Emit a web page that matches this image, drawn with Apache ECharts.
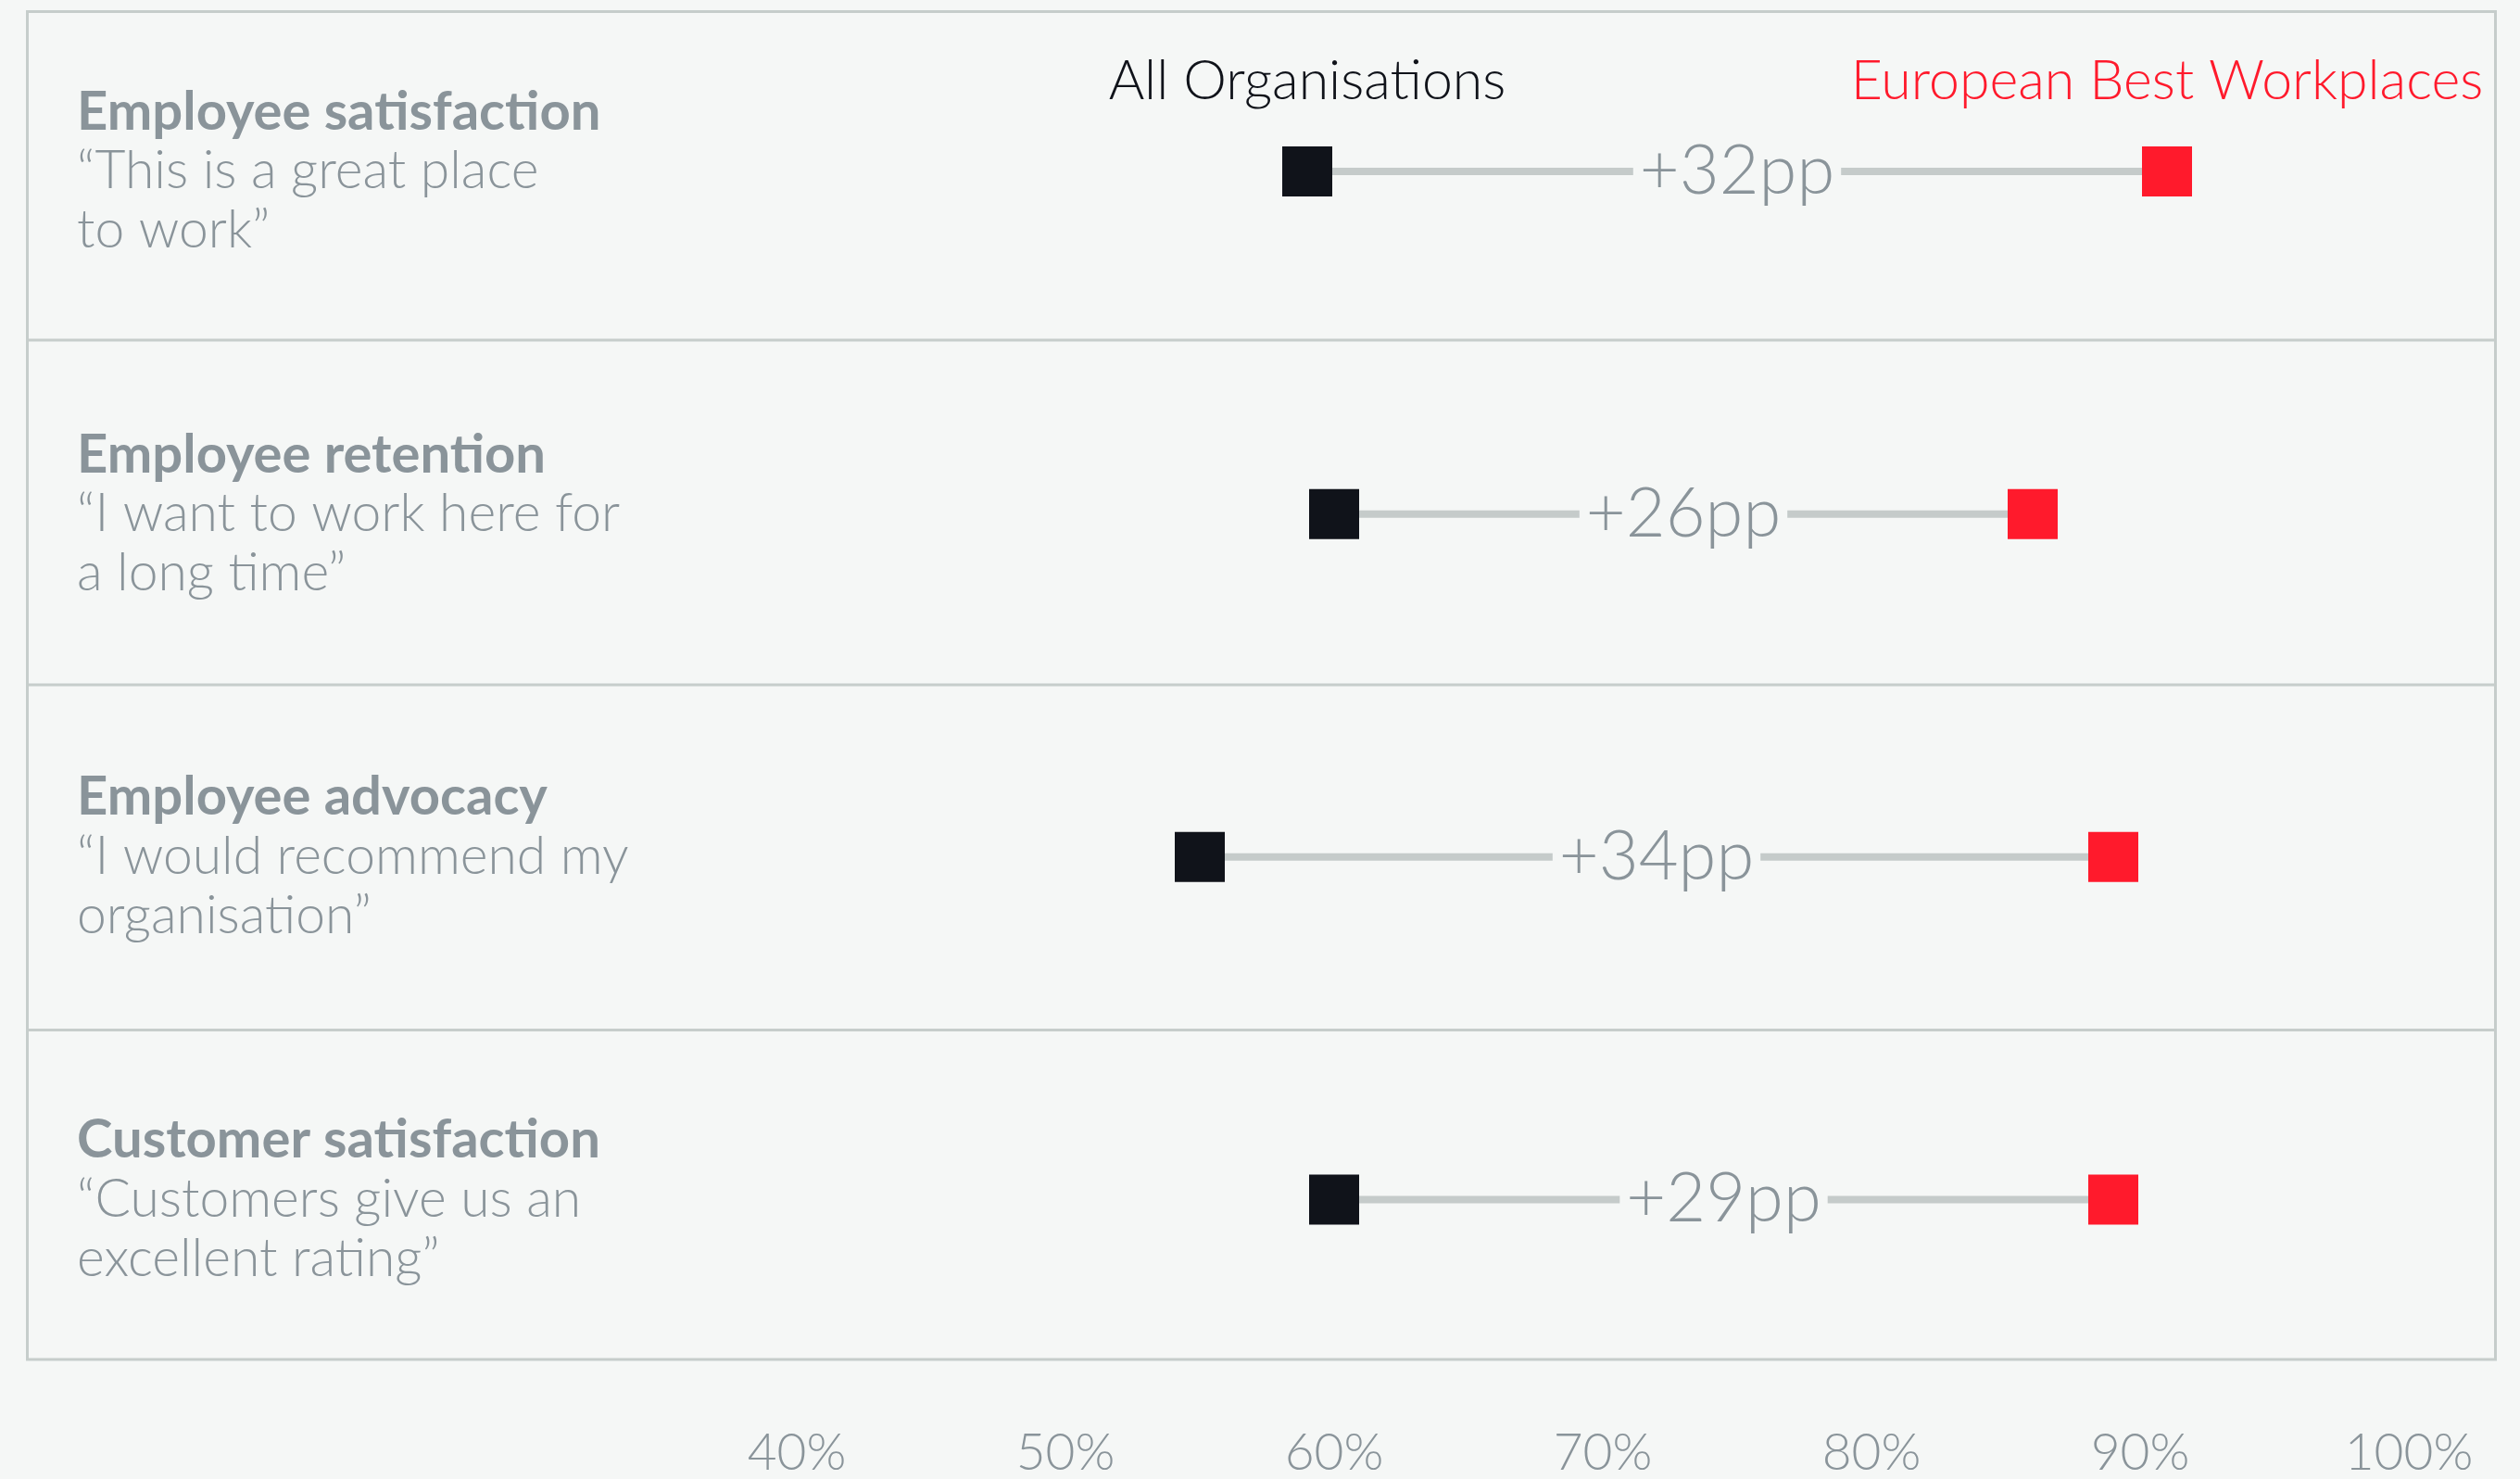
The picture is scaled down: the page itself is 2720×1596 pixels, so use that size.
<!DOCTYPE html>
<html>
<head>
<meta charset="utf-8">
<script src="https://cdn.jsdelivr.net/npm/echarts@6/dist/echarts.min.js"></script>
<style>
html,body{margin:0;padding:0;background:#f5f7f6;}
#chart{width:2720px;height:1596px;}
</style>
</head>
<body>
<div id="chart"></div>
<script>
const categories = ['Employee satisfaction', 'Employee retention', 'Employee advocacy', 'Customer satisfaction'];
const quotes = ['\u201CThis is a great place\nto work\u201D', '\u201CI want to work here for\na long time\u201D', '\u201CI would recommend my\norganisation\u201D', '\u201CCustomers give us an\nexcellent rating\u201D'];
const seriesNames = ['All Organisations', 'European Best Workplaces'];
const allOrganisations = [59, 60, 55, 60];
const bestWorkplaces = [91, 86, 89, 89];
const xTickValues = [40, 50, 60, 70, 80, 90, 100];

const FONT = 'Lato';
const GRAY = '#8a949a';
const BG = '#f5f7f6';
const BORDER = '#c6cdcb';

const chart = echarts.init(document.getElementById('chart'), null, {renderer: 'canvas'});

const connectorData = categories.map((c, i) => [i, allOrganisations[i], bestWorkplaces[i]]);

const option = {
  backgroundColor: BG,
  animation: false,
  grid: {left: 29.5, right: 26.5, top: -0.7, bottom: 113.5, containLabel: false},
  xAxis: {
    type: 'value',
    min: 11.362,
    max: 103.224,
    axisLine: {show: false},
    axisTick: {show: false},
    splitLine: {show: false},
    axisLabel: {
      customValues: xTickValues,
      formatter: '{value}%',
      fontFamily: FONT,
      fontWeight: 300,
      fontSize: 55,
      color: GRAY,
      verticalAlign: 'middle',
      margin: 89
    }
  },
  yAxis: {
    type: 'category',
    inverse: true,
    data: categories,
    axisLine: {show: false},
    axisTick: {show: false},
    splitLine: {show: false},
    axisLabel: {
      inside: true,
      margin: 53.5,
      align: 'left',
      formatter: (v, i) => '{t|' + v + '}\n' + quotes[i].split('\n').map(s => '{s|' + s + '}').join('\n'),
      rich: {
        t: {fontFamily: FONT, fontWeight: 700, fontSize: 58, lineHeight: 64, color: GRAY},
        s: {fontFamily: FONT, fontWeight: 300, fontSize: 57, lineHeight: 64, color: GRAY}
      }
    }
  },
  graphic: [
    {type: 'rect', silent: true, z: 0, shape: {x: 29.5, y: 12.5, width: 2664, height: 1454.5},
      style: {fill: null, stroke: BORDER, lineWidth: 3}},
    {type: 'line', silent: true, z: 0, shape: {x1: 29.5, y1: 367, x2: 2693.5, y2: 367}, style: {stroke: BORDER, lineWidth: 3}},
    {type: 'line', silent: true, z: 0, shape: {x1: 29.5, y1: 739, x2: 2693.5, y2: 739}, style: {stroke: BORDER, lineWidth: 3}},
    {type: 'line', silent: true, z: 0, shape: {x1: 29.5, y1: 1111.5, x2: 2693.5, y2: 1111.5}, style: {stroke: BORDER, lineWidth: 3}}
  ],
  series: [
    {
      type: 'custom',
      z: 2,
      data: connectorData,
      encode: {x: [1, 2], y: 0},
      renderItem: (params, api) => {
        const i = api.value(0), a = api.value(1), b = api.value(2);
        const p1 = api.coord([a, i]);
        const p2 = api.coord([b, i]);
        return {
          type: 'group',
          children: [
            {type: 'line', shape: {x1: p1[0], y1: p1[1], x2: p2[0], y2: p2[1]},
              style: {stroke: '#c5cbca', lineWidth: 8}},
            {type: 'text', z2: 10,
              style: {
                text: '+' + (b - a) + 'pp',
                x: (p1[0] + p2[0]) / 2, y: p1[1],
                align: 'center', verticalAlign: 'middle',
                fontFamily: FONT, fontWeight: 300, fontSize: 74,
                fill: GRAY, backgroundColor: BG, padding: [0, 7]
              }}
          ]
        };
      }
    },
    {
      type: 'scatter',
      name: seriesNames[0],
      z: 5,
      symbol: 'rect',
      symbolSize: 54,
      itemStyle: {color: '#10131a', opacity: 1},
      data: allOrganisations.map((v, i) => [v, i]),
      label: {
        show: true, position: 'top', distance: 40,
        formatter: p => p.dataIndex === 0 ? p.seriesName : '',
        fontFamily: FONT, fontWeight: 300, fontSize: 59, color: '#10131a'
      }
    },
    {
      type: 'scatter',
      name: seriesNames[1],
      z: 5,
      symbol: 'rect',
      symbolSize: 54,
      itemStyle: {color: '#ff1a2c', opacity: 1},
      data: bestWorkplaces.map((v, i) => [v, i]),
      label: {
        show: true, position: 'top', distance: 40,
        formatter: p => p.dataIndex === 0 ? p.seriesName : '',
        fontFamily: FONT, fontWeight: 300, fontSize: 59, color: '#ff1a2c'
      }
    }
  ]
};
chart.setOption(option);
</script>
</body>
</html>
